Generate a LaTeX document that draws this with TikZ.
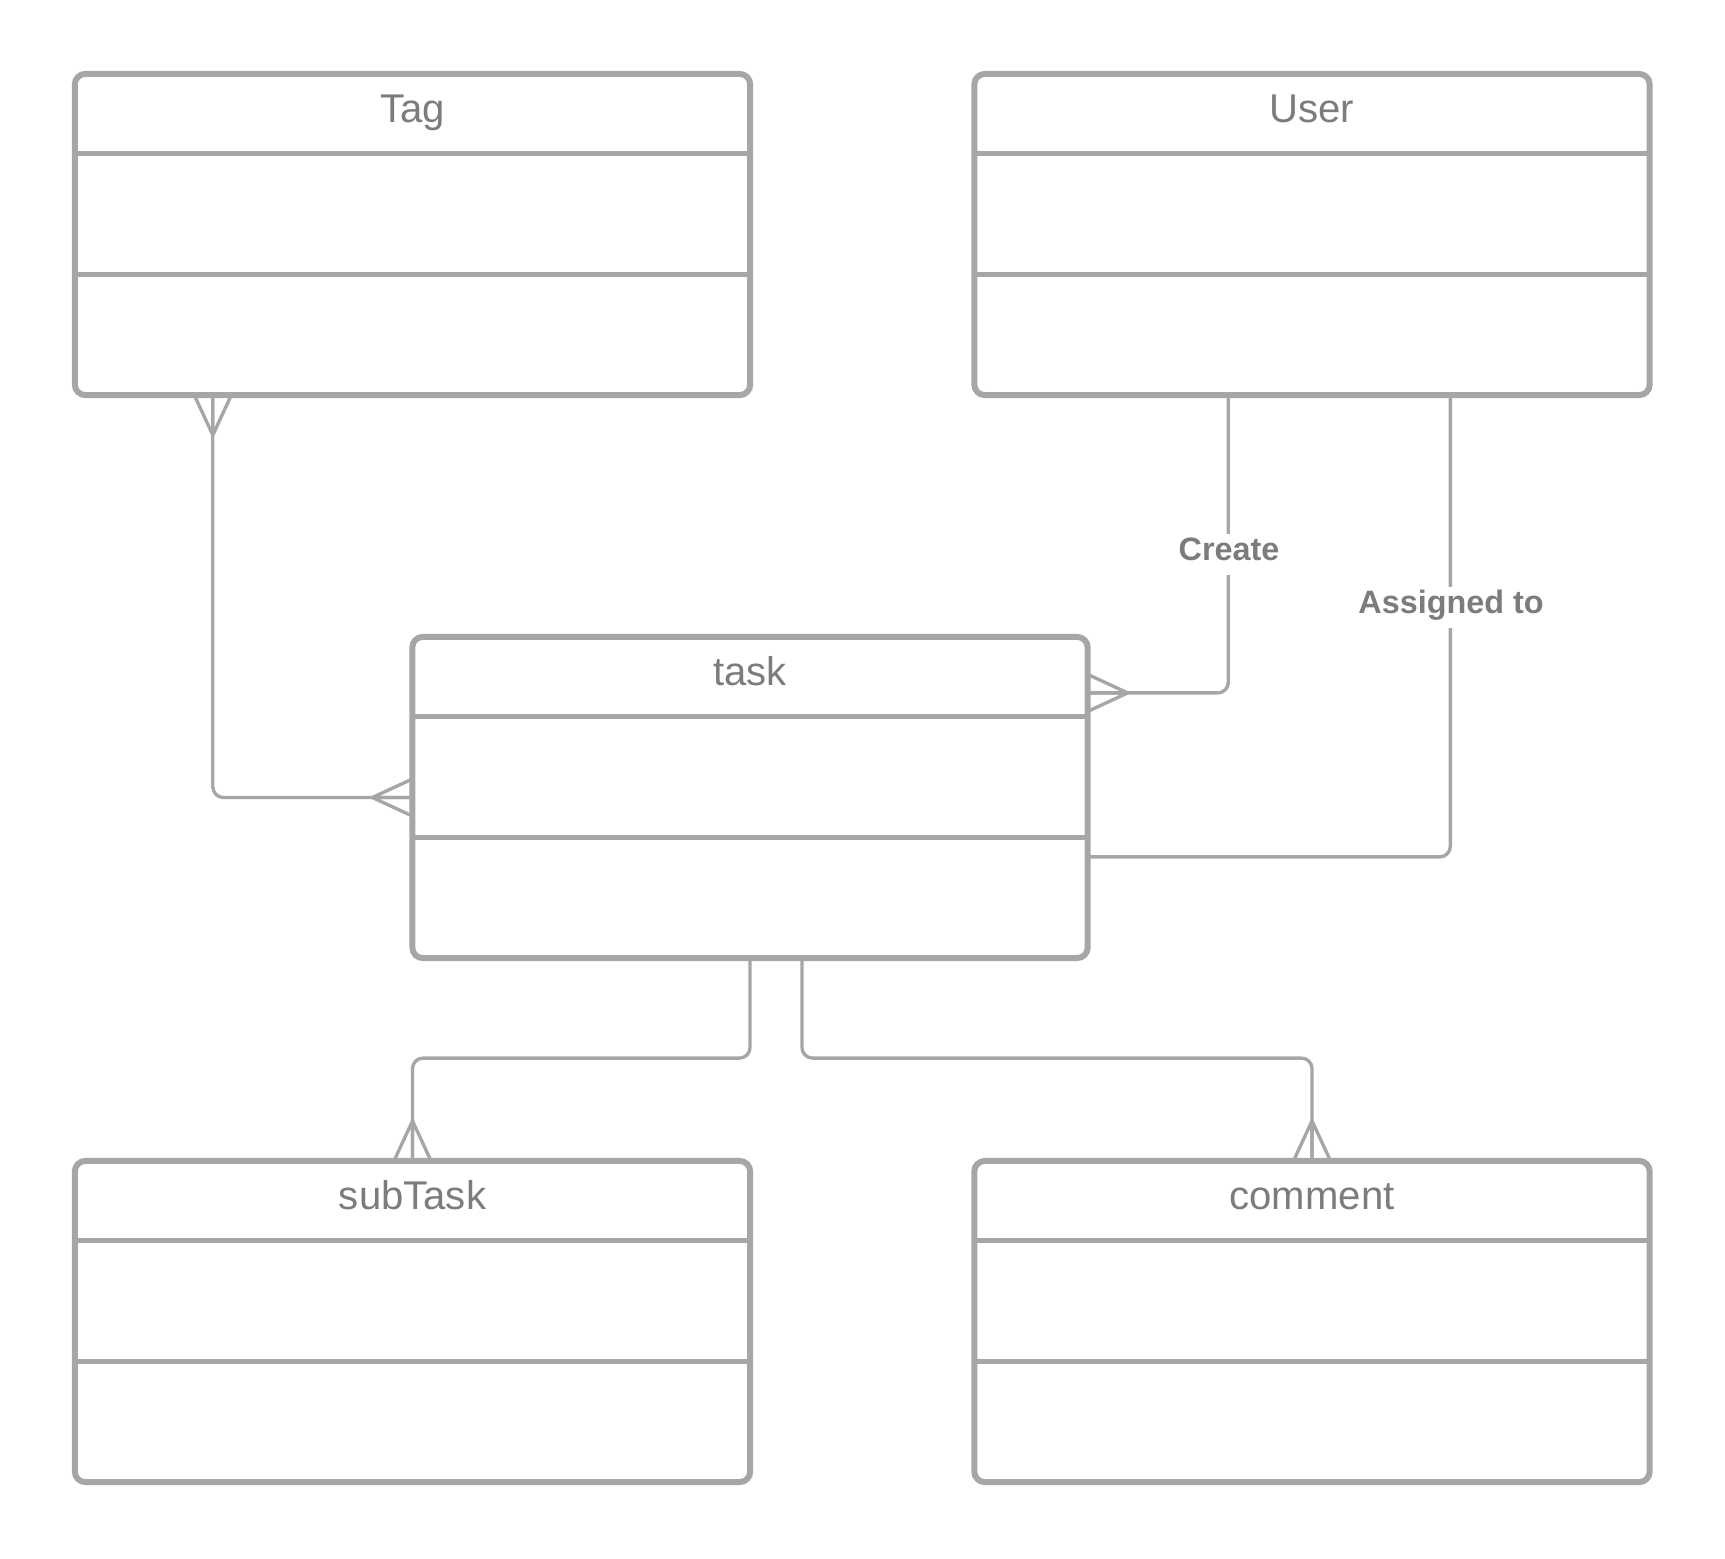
\documentclass[tikz,border=0pt]{standalone}
\usepackage{fontspec}
\setmainfont{Liberation Sans}
\usetikzlibrary{calc}

\definecolor{boxgray}{HTML}{A6A6A6}
\definecolor{textgray}{HTML}{7C7C7C}

\tikzset{
	umlbox/.style={draw=boxgray, line width=1.7pt, rounded corners=3pt, minimum width=6.75cm, minimum height=3.21cm, inner sep=0pt, outer sep=0pt},
	sepline/.style={draw=boxgray, line width=1.4pt},
	conn/.style={draw=boxgray, line width=0.95pt, rounded corners=3pt},
	title/.style={text=textgray, anchor=base, font=\fontsize{11.4}{13}\selectfont},
	rel/.style={text=textgray, anchor=base, fill=white, inner xsep=3pt, inner ysep=0pt, text height=0.26cm, text depth=0.15cm, font=\bfseries\fontsize{9.2}{11}\selectfont},
	manyend/.pic={\draw[draw=boxgray, line width=0.95pt] (0,18.5) -- (40,0) -- (0,-18.5) (0,0) -- (40,0);}
}

\begin{document}
\begin{tikzpicture}[x=0.01cm, y=-0.01cm]
				\useasboundingbox (0,0) rectangle (1725,1558);
				% classes
				\node[umlbox] (Tag) at (412.5,234.5) {};
				\node[umlbox] (User) at (1312,234.5) {};
				\node[umlbox] (task) at (750,797.5) {};
				\node[umlbox] (subTask) at (412.5,1321.5) {};
				\node[umlbox] (comment) at (1312,1321.5) {};
				\draw[sepline] ($(Tag.north west)+(0,80)$) -- ($(Tag.north east)+(0,80)$) ($(Tag.north west)+(0,201)$) -- ($(Tag.north east)+(0,201)$);
				\draw[sepline] ($(User.north west)+(0,80)$) -- ($(User.north east)+(0,80)$) ($(User.north west)+(0,201)$) -- ($(User.north east)+(0,201)$);
				\draw[sepline] ($(task.north west)+(0,80)$) -- ($(task.north east)+(0,80)$) ($(task.north west)+(0,201)$) -- ($(task.north east)+(0,201)$);
				\draw[sepline] ($(subTask.north west)+(0,80)$) -- ($(subTask.north east)+(0,80)$) ($(subTask.north west)+(0,201)$) -- ($(subTask.north east)+(0,201)$);
				\draw[sepline] ($(comment.north west)+(0,80)$) -- ($(comment.north east)+(0,80)$) ($(comment.north west)+(0,201)$) -- ($(comment.north east)+(0,201)$);
				\node[title] (Tag-name) at ($(Tag.north)+(0,49)$) {Tag};
				\node[title] (User-name) at ($(User.north)+(0,49)$) {User};
				\node[title] (task-name) at ($(task.north)+(0,49)$) {task};
				\node[title] (subTask-name) at ($(subTask.north)+(0,49)$) {subTask};
				\node[title] (comment-name) at ($(comment.north)+(0,49)$) {comment};
				% relations
				\draw[conn] ($(Tag.south west)+(138,0)$) |- (task.west);
				\draw[conn] ($(User.south west)+(254,0)$) |- ($(task.north east)+(0,56)$);
				\draw[conn] ($(User.south west)+(476,0)$) |- ($(task.north east)+(0,220)$);
				\draw[conn] (task.south) -- ++(0,100) -| (subTask.north);
				\draw[conn] ($(task.south)+(52,0)$) -- ++(0,100) -| (comment.north);
				\node[rel] (create) at (1229,560) {Create};
				\node[rel] (assigned) at (1451,613) {Assigned to};
				% many ends
				\pic[rotate=-90] at ($(Tag.south west)+(138,0)$) {manyend};
				\pic[rotate=180] at (task.west) {manyend};
				\pic at ($(task.north east)+(0,56)$) {manyend};
				\pic[rotate=90] at (subTask.north) {manyend};
				\pic[rotate=90] at (comment.north) {manyend};
			\end{tikzpicture}
\end{document}
